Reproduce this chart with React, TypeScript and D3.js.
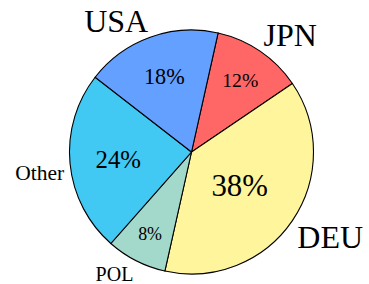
import React from 'react';
import * as d3 from 'd3';

const countries = ['JPN', 'DEU', 'POL', 'Other', 'USA'];
const shares = [12, 38, 8, 24, 18];
const colors = ['#FF6666', '#FFF59D', '#A3D9CB', '#41C8F3', '#64A0FF'];

const width = 369;
const height = 284;
const cx = 191.5;
const cy = 152;
const radius = 122;
const font = 'Liberation Serif';

// big names for the big three, small for the rest
const nameSize = (name: string) => (name === 'POL' ? 20 : name === 'Other' ? 21.5 : 32);
// percentage text grows with the share and sits closer to the centre
const pctSize = (v: number) => 14.5 + 0.43 * v;
const pctRadius = (v: number) => 100 - 1.1 * v;

export default function App() {
  const data = countries.map((c, i) => ({ name: c, value: shares[i], color: colors[i] }));

  const pie = d3.pie<any>()
    .sort(null)
    .value(d => d.value)
    .startAngle(0.22)
    .endAngle(0.22 + Math.PI * 2);

  const arc = d3.arc<any>().innerRadius(0).outerRadius(radius);
  const arcs = pie(data);

  return (
    <div>
      <style>{'body{margin:0}'}</style>
      <svg width={width} height={height} style={{ display: 'block' }}>
        <g transform={`translate(${cx},${cy})`}>
          {arcs.map((a, i) => (
            <path key={'s' + i} d={arc(a) as string} fill={a.data.color} stroke="#000" strokeWidth={1.1} />
          ))}
          {arcs.map((a, i) => {
            const mid = (a.startAngle + a.endAngle) / 2;
            const r = pctRadius(a.data.value);
            return (
              <text key={'p' + i}
                x={Math.sin(mid) * r}
                y={-Math.cos(mid) * r}
                textAnchor="middle"
                dy="0.35em"
                fontFamily={font}
                fontSize={pctSize(a.data.value)}>
                {a.data.value}%
              </text>
            );
          })}
          {arcs.map((a, i) => {
            const mid = (a.startAngle + a.endAngle) / 2;
            const r = 128;
            const upper = Math.cos(mid) > 0;
            return (
              <text key={'n' + i}
                x={Math.sin(mid) * r}
                y={-Math.cos(mid) * r}
                textAnchor={Math.sin(mid) > 0 ? 'start' : 'end'}
                dy={upper ? '0em' : '0.75em'}
                fontFamily={font}
                fontSize={nameSize(a.data.name)}>
                {a.data.name}
              </text>
            );
          })}
        </g>
      </svg>
    </div>
  );
}
